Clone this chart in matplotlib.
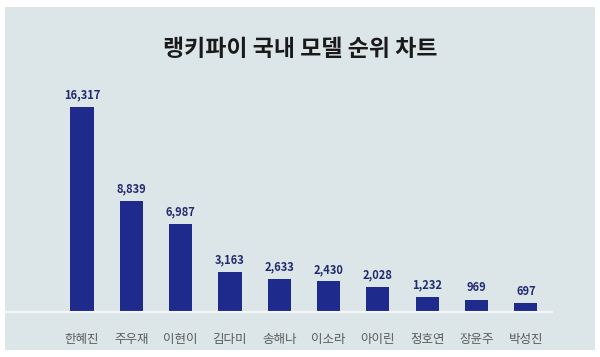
import matplotlib.pyplot as plt
from matplotlib.patches import Rectangle

plt.rcParams['font.family'] = ['Noto Sans CJK KR', 'DejaVu Sans']

names = ["한혜진", "주우재", "이현이", "김다미", "송해나", "이소라", "아이린", "정호연", "장윤주", "박성진"]
scores = [16317, 8839, 6987, 3163, 2633, 2430, 2028, 1232, 969, 697]
title = "랭키파이 국내 모델 순위 차트"

W, H = 600, 357
fig = plt.figure(figsize=(W / 100, H / 100), dpi=100)
fig.patch.set_facecolor("white")

# light panel behind everything
fig.patches.append(Rectangle((5 / W, 7 / H), 590 / W, 343 / H, transform=fig.transFigure,
                             facecolor="#dce6e8", edgecolor="none", zorder=-5))

ax = fig.add_axes([5 / W, 45 / H, 547 / W, 212 / H])
ax.set_zorder(2)
ax.set_facecolor("none")
x = list(range(len(names)))
ax.bar(x, scores, width=0.47, color="#1f2b8c", zorder=2)
ax.set_xlim(-1.561, 9.53)
ax.set_ylim(0, 16879)

for xi, v in zip(x, scores):
    ax.annotate(f"{v:,}", (xi, v), xytext=(0, 4), textcoords="offset points",
                ha="center", va="bottom", fontsize=8, fontweight="bold", color="#1f2b6e")

for s in ["top", "right", "left"]:
    ax.spines[s].set_visible(False)
ax.spines["bottom"].set_color("#f4f7f8")
ax.spines["bottom"].set_linewidth(1.5)
ax.set_yticks([])
ax.set_xticks(x)
ax.set_xticklabels(names, fontsize=9, color="#5a5a5a")
ax.tick_params(axis="x", length=0, pad=15)

fig.text(0.5, 1 - 50 / H, title, ha="center", va="center", fontsize=16.5, fontweight="bold",
         color="#1a1a1a", zorder=3)

fig.savefig("out.png", dpi=100)
